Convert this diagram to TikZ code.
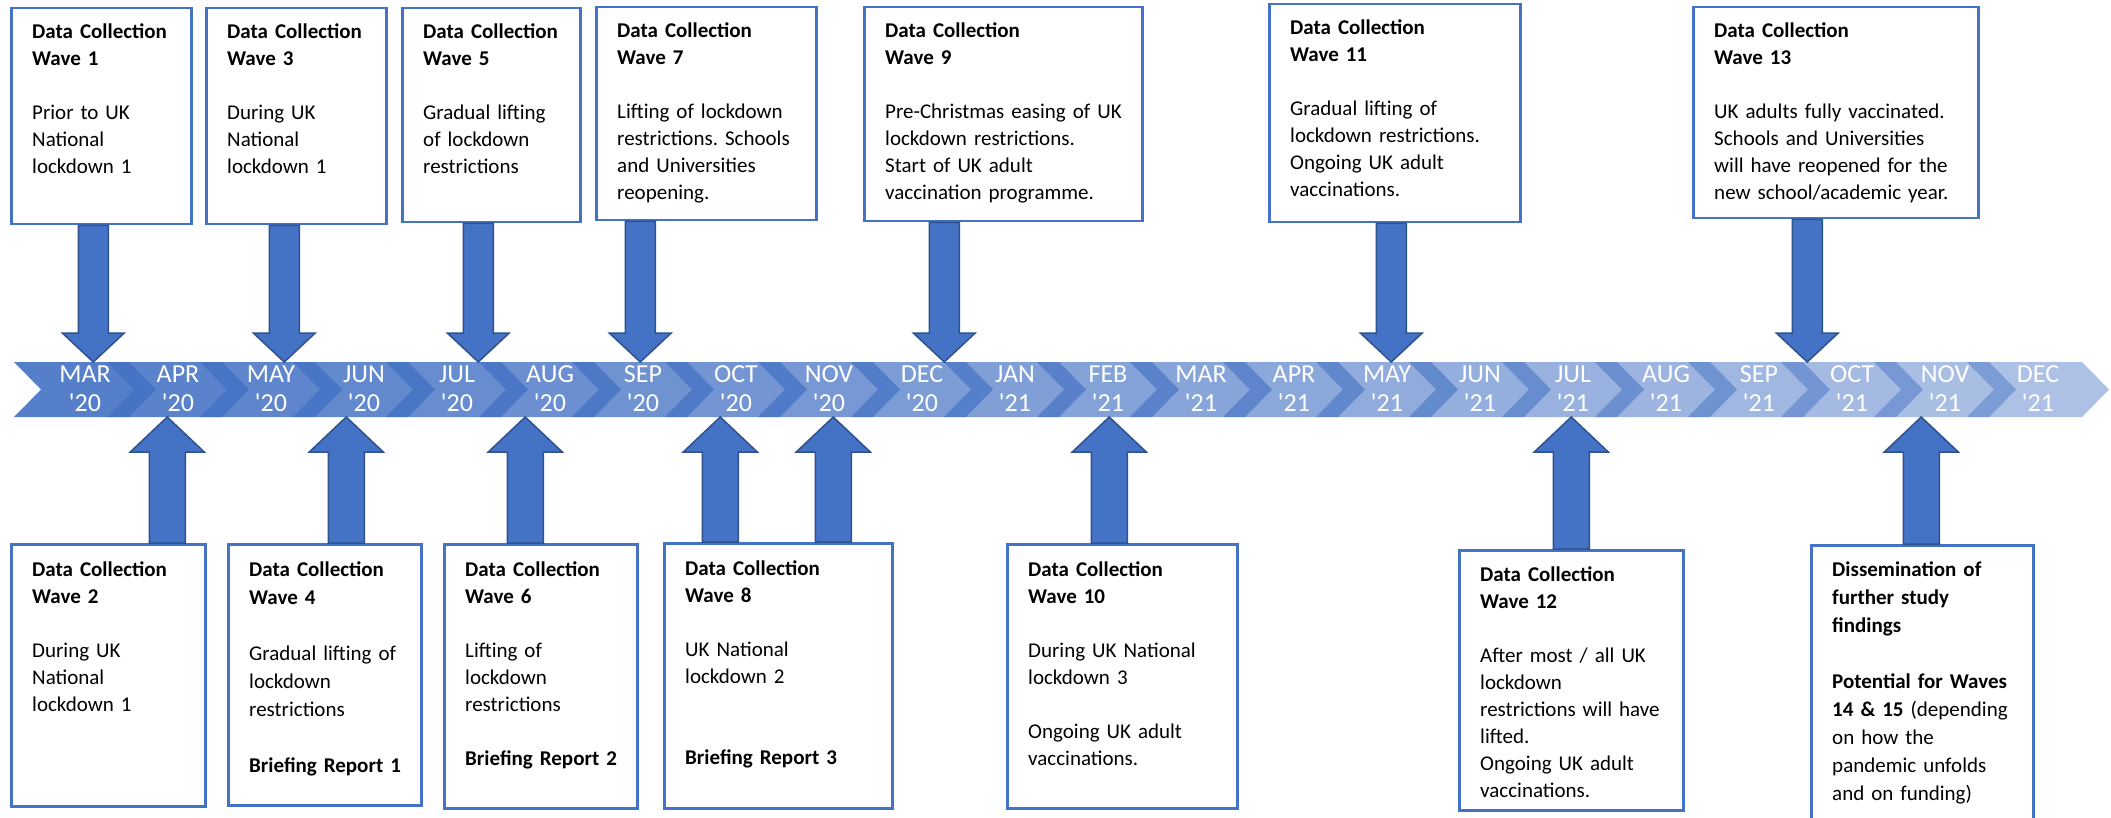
\documentclass[tikz,border=0pt]{standalone}
\usepackage{fontspec}
\setmainfont{Carlito}
\usepackage{tikz}
\usetikzlibrary{calc}
\definecolor{officeblue}{HTML}{4472C4}
\definecolor{edgeblue}{HTML}{2F528F}
\frenchspacing

\newcommand{\wavedown}[2]{%
  \path[draw=edgeblue, fill=officeblue, line width=1.5pt] let \p1=(#1), \p2=(#2) in
    (\x1-15pt,\y1) -- (\x1-15pt,\y2+29pt) -- (\x1-31pt,\y2+29pt) -- (\x1,\y2)
    -- (\x1+31pt,\y2+29pt) -- (\x1+15pt,\y2+29pt) -- (\x1+15pt,\y1) -- cycle;}
\newcommand{\waveup}[2]{%
  \path[draw=edgeblue, fill=officeblue, line width=1.5pt] let \p1=(#1), \p2=(#2) in
    (\x1-18pt,\y1) -- (\x1-18pt,\y2-35pt) -- (\x1-37pt,\y2-35pt) -- (\x1,\y2)
    -- (\x1+37pt,\y2-35pt) -- (\x1+18pt,\y2-35pt) -- (\x1+18pt,\y1) -- cycle;}

\begin{document}
\begin{tikzpicture}[x=1pt, y=-1pt,
  every node/.style={font=\fontsize{21}{27}\selectfont},
  wbox/.style={draw=officeblue, line width=2.5pt, fill=white, anchor=north west, inner sep=0pt},
  wtext/.style={anchor=base west, text width=300pt, align=left, inner sep=0pt},
  month/.style={text=white, align=center, anchor=base, inner sep=0pt, font=\fontsize{26}{29.5}\selectfont}]
\useasboundingbox (0,0) rectangle (2111,818);
\fill[white] (0,0) rectangle (2111,818);
\clip (0,0) rectangle (2111,818);

% timeline band
\coordinate (bandN) at (0,362);
\coordinate (bandS) at (0,417);
\foreach \i in {0,...,21}{
  \pgfmathsetmacro\xa{14+93*\i}
  \pgfmathsetmacro\op{0.9-0.022*\i}
  \fill[officeblue, fill opacity=\op] (\xa,362) -- ++(115,0) -- ++(27,27.5) -- ++(-27,27.5) -- ++(-115,0) -- ++(27,-27.5) -- cycle;
}
\foreach \mon/\yr [count=\i from 0] in {MAR/20,APR/20,MAY/20,JUN/20,JUL/20,AUG/20,SEP/20,OCT/20,NOV/20,DEC/20,JAN/21,FEB/21,MAR/21,APR/21,MAY/21,JUN/21,JUL/21,AUG/21,SEP/21,OCT/21,NOV/21,DEC/21}{
  \pgfmathsetmacro\xa{14+93*\i}
  \node[month] (m\i) at (\xa+71,411.5) {\mon\\\textquotesingle\yr};
}

% waves above the band
\node[wbox, minimum width=180pt, minimum height=216pt] (w1) at (10,7) {};
\node[wbox, minimum width=180pt, minimum height=216pt] (w3) at (205,7) {};
\node[wbox, minimum width=178pt, minimum height=214pt] (w5) at (401,7) {};
\node[wbox, minimum width=220pt, minimum height=213pt] (w7) at (595,6) {};
\node[wbox, minimum width=278pt, minimum height=214pt] (w9) at (863,6) {};
\node[wbox, minimum width=251pt, minimum height=218pt] (w11) at (1268,3) {};
\node[wbox, minimum width=285pt, minimum height=211pt] (w13) at (1692,6) {};

\node[wtext] (t1) at ([shift={(22pt,-32pt)}]w1.north west) {\textbf{Data Collection}\\ \textbf{Wave 1}\\[27pt] Prior to UK\\ National\\ lockdown 1};
\node[wtext] (t3) at ([shift={(22pt,-32pt)}]w3.north west) {\textbf{Data Collection}\\ \textbf{Wave 3}\\[27pt] During UK\\ National\\ lockdown 1};
\node[wtext] (t5) at ([shift={(22pt,-32pt)}]w5.north west) {\textbf{Data Collection}\\ \textbf{Wave 5}\\[27pt] Gradual lifting\\ of lockdown\\ restrictions};
\node[wtext] (t7) at ([shift={(22pt,-32pt)}]w7.north west) {\textbf{Data Collection}\\ \textbf{Wave 7}\\[27pt] Lifting of lockdown\\ restrictions. Schools\\ and Universities\\ reopening.};
\node[wtext] (t9) at ([shift={(22pt,-32pt)}]w9.north west) {\textbf{Data Collection}\\ \textbf{Wave 9}\\[27pt] Pre-Christmas easing of UK\\ lockdown restrictions.\\ Start of UK adult\\ vaccination programme.};
\node[wtext] (t11) at ([shift={(22pt,-32pt)}]w11.north west) {\textbf{Data Collection}\\ \textbf{Wave 11}\\[27pt] Gradual lifting of\\ lockdown restrictions.\\ Ongoing UK adult\\ vaccinations.};
\node[wtext] (t13) at ([shift={(22pt,-32pt)}]w13.north west) {\textbf{Data Collection}\\ \textbf{Wave 13}\\[27pt] UK adults fully vaccinated.\\ Schools and Universities\\ will have reopened for the\\ new school/academic year.};

% waves below the band
\node[wbox, minimum width=194pt, minimum height=262pt] (w2) at (10,543) {};
\node[wbox, minimum width=193pt, minimum height=261pt] (w4) at (227,543) {};
\node[wbox, minimum width=193pt, minimum height=264pt] (w6) at (443,543) {};
\node[wbox, minimum width=228pt, minimum height=265pt] (w8) at (663,542) {};
\node[wbox, minimum width=230pt, minimum height=264pt] (w10) at (1006,543) {};
\node[wbox, minimum width=224pt, minimum height=260pt] (w12) at (1458,549) {};
\node[wbox, minimum width=222pt, minimum height=300pt] (w14) at (1810,544) {};

\node[wtext] (t2) at ([shift={(22pt,-33pt)}]w2.north west) {\textbf{Data Collection}\\ \textbf{Wave 2}\\[27pt] During UK\\ National\\ lockdown 1};
\node[wtext, font=\fontsize{21}{28}\selectfont] (t4) at ([shift={(22pt,-33pt)}]w4.north west) {\textbf{Data Collection}\\ \textbf{Wave 4}\\[28pt] Gradual lifting of\\ lockdown\\ restrictions\\[28pt] \textbf{Briefing Report 1}};
\node[wtext] (t6) at ([shift={(22pt,-33pt)}]w6.north west) {\textbf{Data Collection}\\ \textbf{Wave 6}\\[27pt] Lifting of\\ lockdown\\ restrictions\\[27pt] \textbf{Briefing Report 2}};
\node[wtext] (t8) at ([shift={(22pt,-33pt)}]w8.north west) {\textbf{Data Collection}\\ \textbf{Wave 8}\\[27pt] UK National\\ lockdown 2\\[54pt] \textbf{Briefing Report 3}};
\node[wtext] (t10) at ([shift={(22pt,-33pt)}]w10.north west) {\textbf{Data Collection}\\ \textbf{Wave 10}\\[27pt] During UK National\\ lockdown 3\\[27pt] Ongoing UK adult\\ vaccinations.};
\node[wtext] (t12) at ([shift={(22pt,-32pt)}]w12.north west) {\textbf{Data Collection}\\ \textbf{Wave 12}\\[27pt] After most / all UK\\ lockdown\\ restrictions will have\\ lifted.\\ Ongoing UK adult\\ vaccinations.};
\node[wtext, font=\fontsize{21}{28}\selectfont] (t14) at ([shift={(22pt,-32pt)}]w14.north west) {\textbf{Dissemination of}\\ \textbf{further study}\\ \textbf{findings}\\[28pt] \textbf{Potential for Waves}\\ \textbf{14 \& 15} (depending\\ on how the\\ pandemic unfolds\\ and on funding)};

% block arrows
\wavedown{[xshift=-8pt]w1.south}{bandN}
\wavedown{[xshift=-12pt]w3.south}{bandN}
\wavedown{[xshift=-13pt]w5.south}{bandN}
\wavedown{[xshift=-66pt]w7.south}{bandN}
\wavedown{[xshift=-59pt]w9.south}{bandN}
\wavedown{[xshift=-3.5pt]w11.south}{bandN}
\wavedown{[xshift=-28.5pt]w13.south}{bandN}
\waveup{[xshift=59pt]w2.north}{bandS}
\waveup{[xshift=21.5pt]w4.north}{bandS}
\waveup{[xshift=-15.5pt]w6.north}{bandS}
\waveup{[xshift=-58pt]w8.north}{bandS}
\waveup{[xshift=55pt]w8.north}{bandS}
\waveup{[xshift=-13pt]w10.north}{bandS}
\waveup{w12.north}{bandS}
\waveup{[xshift=-1pt]w14.north}{bandS}
\end{tikzpicture}
\end{document}
